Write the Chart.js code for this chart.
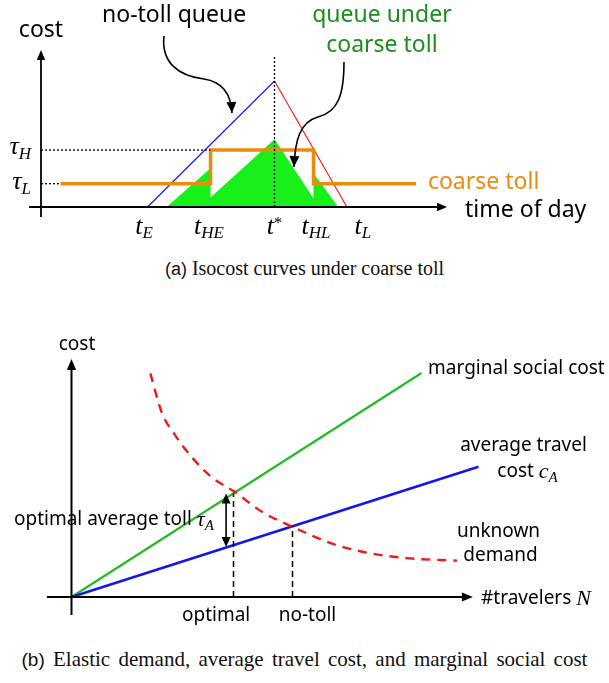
<!DOCTYPE html>
<html>
<head>
<meta charset="utf-8">
<script src="https://cdn.jsdelivr.net/npm/chart.js@4/dist/chart.umd.min.js"></script>
<style>
  html, body { margin: 0; padding: 0; background: #fff; }
  body { width: 609px; height: 683px; position: relative; overflow: hidden; }
  canvas { position: absolute; left: 0; }
  #chartA { top: 0; width: 609px; height: 255px; }
  #chartB { top: 320px; width: 609px; height: 305px; }
  .caption { position: absolute; left: 0; width: 609px; text-align: center; white-space: nowrap;
             font-family: "Liberation Serif", "Times New Roman", serif; color: #111; }
  .caption .tag { font-family: "Liberation Sans", Arial, sans-serif; }
  #capA { top: 257px; font-size: 20px; }
  #capA .tag { font-size: 18px; }
  #capB { top: 647px; font-size: 21px; word-spacing: 3px; }
  #capB .tag { font-size: 19px; }
</style>
</head>
<body>
<canvas id="chartA" width="609" height="255"></canvas>
<div class="caption" id="capA"><span class="tag">(a)</span> Isocost curves under coarse toll</div>
<canvas id="chartB" width="609" height="305"></canvas>
<div class="caption" id="capB"><span class="tag">(b)</span> Elastic demand, average travel cost, and marginal social cost</div>

<script>
// ---------- (a) time of day vs. cost ----------
const tEarly = 4.56, tHighEarly = 7.26, tStar = 10, tHighLate = 11.67, tLate = 13.1;
const noTollPeak = 10;
const tauHigh = 4.52, tauLow = 1.85;
const tollStart = 0.84, tollEnd = 16.06;
// queue profile under the coarse toll (time, cost)
const queueTimes = [5.38, 7.26, 7.26, 10.0, 11.67, 11.67, 12.73];
const queueCosts = [0, 3.07, 0.75, 5.37, 0.69, 2.67, 0];

// ---------- (b) travelers vs. cost ----------
const avgCostSlope = 0.32;            // c_A = slope * N
const mscSlope = 2 * avgCostSlope;    // marginal social cost
const avgCostEndN = 20.35, mscEndN = 17.5;
const demandN    = [3.94, 4.53, 5.12, 5.99, 6.97, 8.14, 9.51, 11.03, 13.0, 14.98, 16.93, 19.28];
const demandCost = [11.18, 9.18, 8.18, 7.02, 6.02, 5.27, 4.27, 3.52, 2.68, 2.18, 1.93, 1.82];
const optimalN = 8.1, noTollN = 11.05;
const tollArrowN = 7.73, tollArrowLow = 2.5, tollArrowHigh = 5.18;

const SANS = '"Noto Sans", "Open Sans", sans-serif';
const MATH = '"Liberation Serif", "DejaVu Serif", serif';

const pts = (xs, ys) => xs.map((x, i) => ({ x, y: ys[i] }));

function arrowHead(ctx, tx, ty, ux, uy, len, half) {
  const bx = tx - ux * len, by = ty - uy * len;
  ctx.beginPath();
  ctx.moveTo(tx, ty);
  ctx.lineTo(bx - uy * half, by + ux * half);
  ctx.lineTo(bx + uy * half, by - ux * half);
  ctx.closePath();
  ctx.fill();
}

function drawParts(ctx, x, y, align, parts) {
  let total = 0;
  parts.forEach(p => { ctx.font = p.font; p.w = ctx.measureText(p.text).width; total += p.w; });
  let cx = align === 'center' ? x - total / 2 : align === 'right' ? x - total : x;
  ctx.textAlign = 'left';
  ctx.textBaseline = 'middle';
  parts.forEach(p => {
    ctx.font = p.font;
    ctx.fillStyle = p.color || '#000';
    ctx.fillText(p.text, cx, y + (p.dy || 0));
    cx += p.w;
  });
}

// axes, curved call-out arrows and text labels, all placed in data units
function decorPlugin(spec) {
  return {
    id: 'decor',
    afterDatasetsDraw(chart) {
      const ctx = chart.ctx, sx = chart.scales.x, sy = chart.scales.y;
      const P = (x, y) => [sx.getPixelForValue(x), sy.getPixelForValue(y)];
      ctx.save();
      ctx.strokeStyle = '#000';
      ctx.fillStyle = '#000';
      ctx.lineCap = 'butt';

      // axes with arrow tips
      const ax = spec.axes;
      ctx.lineWidth = ax.width;
      let [x0, y0] = P(ax.xFrom, 0), [x1] = P(ax.xTo, 0);
      ctx.beginPath(); ctx.moveTo(x0, y0); ctx.lineTo(x1 - 6, y0); ctx.stroke();
      arrowHead(ctx, x1, y0, 1, 0, ax.head, ax.head * 0.42);
      let [yx, ya] = P(0, ax.yFrom), [, yb] = P(0, ax.yTo);
      ctx.beginPath(); ctx.moveTo(yx, ya); ctx.lineTo(yx, yb + 6); ctx.stroke();
      arrowHead(ctx, yx, yb, 0, -1, ax.head, ax.head * 0.42);

      // curved arrows (chains of cubic segments)
      (spec.curves || []).forEach(c => {
        const q = c.points.map(p => P(p[0], p[1]));
        ctx.lineWidth = c.width;
        ctx.beginPath();
        ctx.moveTo(q[0][0], q[0][1]);
        for (let i = 1; i + 2 < q.length; i += 3) {
          ctx.bezierCurveTo(q[i][0], q[i][1], q[i + 1][0], q[i + 1][1], q[i + 2][0], q[i + 2][1]);
        }
        ctx.stroke();
        const e = q[q.length - 1], b = q[q.length - 2];
        const d = Math.hypot(e[0] - b[0], e[1] - b[1]);
        arrowHead(ctx, e[0], e[1], (e[0] - b[0]) / d, (e[1] - b[1]) / d, 11, 5);
      });

      // straight double-headed arrows
      (spec.doubleArrows || []).forEach(a => {
        const [ax0, ay0] = P(a.x, a.from), [, ay1] = P(a.x, a.to);
        ctx.lineWidth = a.width;
        ctx.beginPath(); ctx.moveTo(ax0, ay0 - 5); ctx.lineTo(ax0, ay1 + 5); ctx.stroke();
        arrowHead(ctx, ax0, ay0, 0, 1, 10, 4.5);
        arrowHead(ctx, ax0, ay1, 0, -1, 10, 4.5);
      });

      // labels
      (spec.labels || []).forEach(l => {
        const [lx, ly] = P(l.x, l.y);
        drawParts(ctx, lx, ly, l.align, l.parts);
      });
      ctx.restore();
    }
  };
}

function baseOptions(xMin, xMax, yMin, yMax) {
  return {
    responsive: false,
    animation: false,
    devicePixelRatio: 1,
    layout: { padding: 0 },
    plugins: { legend: { display: false }, tooltip: { enabled: false } },
    elements: { point: { radius: 0, hoverRadius: 0 }, line: { tension: 0 } },
    scales: {
      x: { type: 'linear', display: false, min: xMin, max: xMax },
      y: { type: 'linear', display: false, min: yMin, max: yMax }
    }
  };
}

const line = (data, color, width, extra) => Object.assign({
  data, showLine: true, borderColor: color, borderWidth: width, fill: false, pointRadius: 0
}, extra || {});

// ---------- chart (a) ----------
const sansA = '23px ' + SANS;
const tMain = 'italic 26px ' + MATH, tSub = 'italic 17px ' + MATH;
const GREEN_TEXT = '#1c8c1c', ORANGE = '#ec8a0c';

new Chart(document.getElementById('chartA'), {
  type: 'scatter',
  data: {
    datasets: [
      line([{ x: tStar, y: 0 }, { x: tStar, y: 12 }], '#000', 1.3, { borderDash: [2, 2], order: 1 }),
      line([{ x: 0, y: tauHigh }, { x: tHighEarly, y: tauHigh }], '#000', 1.3, { borderDash: [2, 2], order: 2 }),
      line([{ x: 0, y: tauLow }, { x: tollStart, y: tauLow }], '#000', 1.3, { borderDash: [2, 2], order: 2 }),
      line([
        { x: tollStart, y: tauLow }, { x: tHighEarly, y: tauLow }, { x: tHighEarly, y: tauHigh },
        { x: tHighLate, y: tauHigh }, { x: tHighLate, y: tauLow }, { x: tollEnd, y: tauLow }
      ], ORANGE, 3.5, { order: 3, borderJoinStyle: 'miter' }),
      line([{ x: tEarly, y: 0 }, { x: tStar, y: noTollPeak }], '#1010ff', 1.1, { order: 4 }),
      line([{ x: tStar, y: noTollPeak }, { x: tLate, y: 0 }], '#ff1010', 1.1, { order: 4 }),
      line(pts(queueTimes, queueCosts), 'rgba(0,0,0,0)', 0,
           { fill: 'origin', backgroundColor: '#19f019', order: 5 })
    ]
  },
  options: baseOptions(-41 / 23.35, 568 / 23.35, -48 / 12.6, 207 / 12.6),
  plugins: [decorPlugin({
    axes: { xFrom: -0.51, xTo: 17.39, yFrom: -0.79, yTo: 12.46, width: 1.8, head: 10 },
    curves: [
      { width: 1.6, points: [[5.268, 13.571], [5.139, 11.508], [5.867, 10.397], [6.981, 10.159],
                              [7.837, 9.921], [8.137, 8.889], [8.180, 7.460]] },
      { width: 1.6, points: [[12.976, 11.508], [12.976, 8.889], [12.72, 7.54], [11.863, 7.143],
                              [11.092, 6.746], [10.878, 5.317], [10.835, 3.175]] }
    ],
    labels: [
      { x: 0, y: 14.05, align: 'center', parts: [{ text: 'cost', font: sansA }] },
      { x: 5.70, y: 15.24, align: 'center', parts: [{ text: 'no-toll queue', font: sansA }] },
      { x: 14.6, y: 15.24, align: 'center', parts: [{ text: 'queue under', font: sansA, color: GREEN_TEXT }] },
      { x: 14.6, y: 12.86, align: 'center', parts: [{ text: 'coarse toll', font: sansA, color: GREEN_TEXT }] },
      { x: 16.57, y: 1.98, align: 'left', parts: [{ text: 'coarse toll', font: sansA, color: ORANGE }] },
      { x: 18.16, y: -0.24, align: 'left', parts: [{ text: 'time of day', font: sansA }] },
      { x: -0.43, y: 4.75, align: 'right', parts: [{ text: 'τ', font: tMain }, { text: 'H', font: tSub, dy: 7 }] },
      { x: -0.43, y: 1.95, align: 'right', parts: [{ text: 'τ', font: tMain }, { text: 'L', font: tSub, dy: 7 }] },
      { x: 4.41, y: -1.6, align: 'center', parts: [{ text: 't', font: tMain }, { text: 'E', font: tSub, dy: 6 }] },
      { x: 7.19, y: -1.6, align: 'center', parts: [{ text: 't', font: tMain }, { text: 'HE', font: tSub, dy: 6 }] },
      { x: 10.0, y: -1.6, align: 'center', parts: [{ text: 't', font: tMain }, { text: '*', font: '17px ' + MATH, dy: -4 }] },
      { x: 11.78, y: -1.6, align: 'center', parts: [{ text: 't', font: tMain }, { text: 'HL', font: tSub, dy: 6 }] },
      { x: 13.78, y: -1.6, align: 'center', parts: [{ text: 't', font: tMain }, { text: 'L', font: tSub, dy: 6 }] }
    ]
  })]
});

// ---------- chart (b) ----------
const sansB = '19px ' + SANS;
const mMain = 'italic 22px ' + MATH, mSub = 'italic 15px ' + MATH;

new Chart(document.getElementById('chartB'), {
  type: 'scatter',
  data: {
    datasets: [
      line([{ x: optimalN, y: 0 }, { x: optimalN, y: mscSlope * optimalN }], '#000', 1.5, { borderDash: [6, 4], order: 1 }),
      line([{ x: noTollN, y: 0 }, { x: noTollN, y: avgCostSlope * noTollN }], '#000', 1.5, { borderDash: [6, 4], order: 1 }),
      line(pts(demandN, demandCost), '#f01818', 2.4, { borderDash: [9, 7], cubicInterpolationMode: 'monotone', order: 2 }),
      line([{ x: 0, y: 0 }, { x: avgCostEndN, y: avgCostSlope * avgCostEndN }], '#1414f0', 2.4, { order: 3 }),
      line([{ x: 0, y: 0 }, { x: mscEndN, y: mscSlope * mscEndN }], '#22bb22', 2.2, { order: 3 })
    ]
  },
  options: baseOptions(-71.5 / 20, 537.5 / 20, -28 / 20, 277 / 20),
  plugins: [decorPlugin({
    axes: { xFrom: -1.23, xTo: 20.07, yFrom: -0.9, yTo: 11.9, width: 2, head: 11 },
    doubleArrows: [{ x: tollArrowN, from: tollArrowLow, to: tollArrowHigh, width: 1.6 }],
    labels: [
      { x: 0.275, y: 12.6, align: 'center', parts: [{ text: 'cost', font: sansB }] },
      { x: 20.48, y: -0.1, align: 'left', parts: [{ text: '#travelers ', font: sansB }, { text: 'N', font: mMain }] },
      { x: 17.83, y: 11.4, align: 'left', parts: [{ text: 'marginal social cost', font: sansB }] },
      { x: 22.6, y: 7.55, align: 'center', parts: [{ text: 'average travel', font: sansB }] },
      { x: 22.8, y: 6.25, align: 'center', parts: [{ text: 'cost ', font: sansB }, { text: 'c', font: mMain }, { text: 'A', font: mSub, dy: 6 }] },
      { x: 21.35, y: 3.25, align: 'center', parts: [{ text: 'unknown', font: sansB }] },
      { x: 21.45, y: 2.05, align: 'center', parts: [{ text: 'demand', font: sansB }] },
      { x: -2.875, y: 3.85, align: 'left', parts: [{ text: 'optimal average toll ', font: sansB }, { text: 'τ', font: mMain }, { text: 'A', font: mSub, dy: 6 }] },
      { x: 7.23, y: -0.95, align: 'center', parts: [{ text: 'optimal', font: sansB }] },
      { x: 11.8, y: -0.95, align: 'center', parts: [{ text: 'no-toll', font: sansB }] }
    ]
  })]
});
</script>
</body>
</html>
